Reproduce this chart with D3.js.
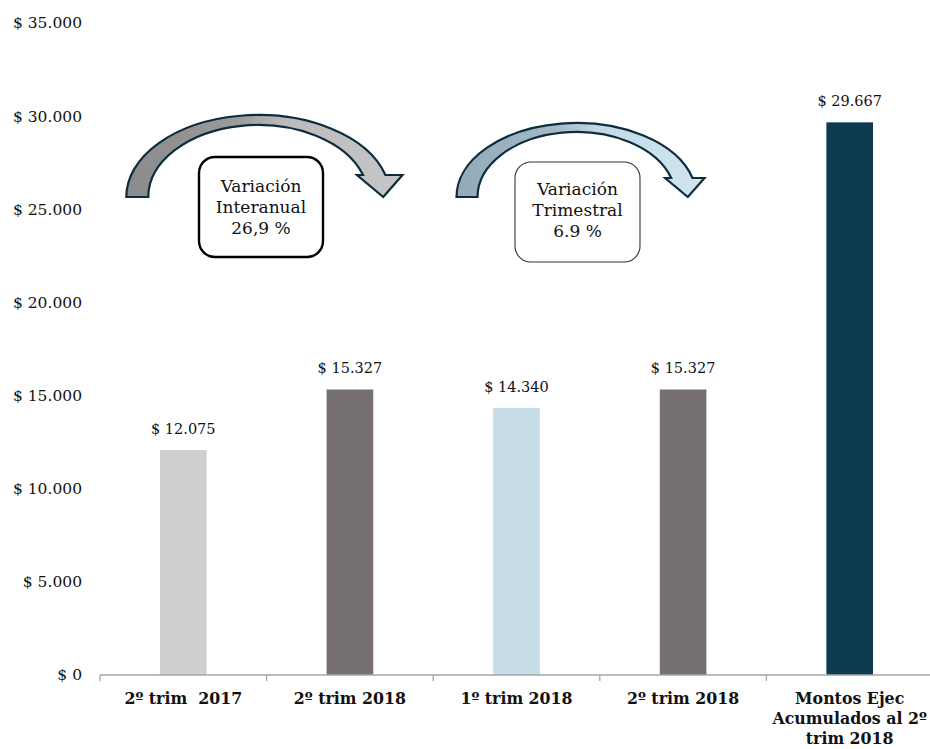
<!DOCTYPE html>
<html>
<head>
<meta charset="utf-8">
<script src="https://cdn.jsdelivr.net/npm/d3@7"></script>
<style>
body { margin: 0; background: #fff; }
text { font-family: "DejaVu Serif", serif; fill: #111; }
.xLabel { font-weight: bold; font-size: 15.8px; white-space: pre; }
.yLabel { font-size: 15.5px; }
.valLabel { font-size: 14.5px; }
.boxText { font-size: 17px; }
</style>
</head>
<body>
<div id="chart"></div>
<script>
//--------------------------------- Data ---------------------------------
var categories = ["2º trim  2017", "2º trim 2018", "1º trim 2018", "2º trim 2018 ", "Montos Ejec\nAcumulados al 2º\ntrim 2018"];
var values = [12075, 15327, 14340, 15327, 29667];
var barColors = ["#d0cecf", "#767170", "#c6dde8", "#767170", "#0e3a52"];
var yTicks = [0, 5000, 10000, 15000, 20000, 25000, 30000, 35000];
var variationLines = [
	["Variación", "Interanual", "26,9 %"],
	["Variación", "Trimestral", "6.9 %"]
];

//--------------------------------- Set up svg ---------------------------------
var width = 930, height = 749;
var margin = {left: 100, right: -3, top: 23, bottom: 74};

var svg = d3.select("#chart")
	.append("svg")
	.attr("width", width)
	.attr("height", height);

var x = d3.scaleBand()
	.domain(categories)
	.range([margin.left, width - margin.right])
	.padding(0);

var y = d3.scaleLinear()
	.domain([0, 35000])
	.range([height - margin.bottom, margin.top]);

var fmt = function(d) { return "$ " + d3.format(",")(d).replace(/,/g, "."); };

//--------------------------------- Y labels (no axis line) ---------------------------------
svg.selectAll(".yLabel")
	.data(yTicks)
	.enter().append("text")
	.attr("class", "yLabel")
	.attr("x", margin.left - 18)
	.attr("y", function(d) { return y(d); })
	.attr("dy", "0.35em")
	.attr("text-anchor", "end")
	.text(fmt);

//--------------------------------- Bars ---------------------------------
var barW = x.bandwidth() * 0.28;

svg.selectAll(".bar")
	.data(values)
	.enter().append("rect")
	.attr("class", "bar")
	.attr("x", function(d, i) { return x(categories[i]) + (x.bandwidth() - barW) / 2; })
	.attr("y", function(d) { return y(d); })
	.attr("width", barW)
	.attr("height", function(d) { return y(0) - y(d); })
	.style("fill", function(d, i) { return barColors[i]; });

svg.selectAll(".valLabel")
	.data(values)
	.enter().append("text")
	.attr("class", "valLabel")
	.attr("x", function(d, i) { return x(categories[i]) + x.bandwidth() / 2; })
	.attr("y", function(d) { return y(d) - 16; })
	.attr("text-anchor", "middle")
	.text(fmt);

//--------------------------------- X axis ---------------------------------
var xAxis = svg.append("g").attr("class", "xAxis");
xAxis.append("line")
	.attr("x1", x.range()[0]).attr("x2", x.range()[1])
	.attr("y1", y(0)).attr("y2", y(0))
	.style("stroke", "#a6a6a6").style("stroke-width", 1.3);

var bounds = categories.map(function(c) { return x(c); }).concat([x.range()[1]]);
xAxis.selectAll(".tickMark")
	.data(bounds)
	.enter().append("line")
	.attr("x1", function(d) { return d; }).attr("x2", function(d) { return d; })
	.attr("y1", y(0)).attr("y2", y(0) + 6)
	.style("stroke", "#a6a6a6").style("stroke-width", 1.3);

xAxis.selectAll(".xLabel")
	.data(categories)
	.enter().append("text")
	.attr("class", "xLabel")
	.attr("text-anchor", "middle")
	.attr("x", function(d) { return x(d) + x.bandwidth() / 2; })
	.attr("y", y(0) + 29)
	.each(function(d) {
		var t = d3.select(this);
		var cx = x(d) + x.bandwidth() / 2;
		d.trim().split("\n").forEach(function(line, k) {
			t.append("tspan").attr("x", cx).attr("dy", k === 0 ? 0 : 20).text(line);
		});
	});

//--------------------------------- Curved arrows ---------------------------------
var defs = svg.append("defs");
var gradients = [
	{id: "arrowGrad0", stops: [["0%", "#8b8b8b"], ["40%", "#9a9a9a"], ["58%", "#bcbcbc"], ["100%", "#c6c6c6"]]},
	{id: "arrowGrad1", stops: [["0%", "#93aab8"], ["40%", "#a3b9c6"], ["58%", "#c3dae6"], ["100%", "#d0e5f0"]]}
];
gradients.forEach(function(g) {
	defs.append("linearGradient")
		.attr("id", g.id)
		.attr("x1", "0%").attr("y1", "0%").attr("x2", "100%").attr("y2", "0%")
		.selectAll("stop")
		.data(g.stops)
		.enter().append("stop")
		.attr("offset", function(s) { return s[0]; })
		.attr("stop-color", function(s) { return s[1]; });
});

// arrow geometry relative to the band of the starting category
var arrows = [
	{from: 0, dx: 75, baseY: 197, rxO: 132, ryO: 82, rxI: 110, ryI: 72, neck: 22, wingL: 6, wingR: 17, tipDx: 9},
	{from: 2, dx: 60, baseY: 197, rxO: 120, ryO: 74, rxI: 99, ryI: 65, neck: 19, wingL: 6, wingR: 12, tipDx: 6}
];

function arrowPath(a) {
	var cx = x(categories[a.from]) + x.bandwidth() / 2 + a.dx;
	var ny = a.baseY - a.neck;
	var xo = cx + a.rxO * Math.sqrt(1 - Math.pow(a.neck / a.ryO, 2));
	var xi = cx + a.rxI * Math.sqrt(1 - Math.pow(a.neck / a.ryI, 2));
	var tipX = (xo + xi) / 2 + a.tipDx;
	return "M" + (cx - a.rxO) + "," + a.baseY +
		" A" + a.rxO + "," + a.ryO + " 0 0 1 " + xo + "," + ny +
		" L" + (xo + a.wingR) + "," + ny +
		" L" + tipX + "," + a.baseY +
		" L" + (xi - a.wingL) + "," + ny +
		" L" + xi + "," + ny +
		" A" + a.rxI + "," + a.ryI + " 0 0 0 " + (cx - a.rxI) + "," + a.baseY + " Z";
}

svg.selectAll(".curvedArrow")
	.data(arrows)
	.enter().append("path")
	.attr("class", "curvedArrow")
	.attr("d", arrowPath)
	.style("fill", function(d, i) { return "url(#arrowGrad" + i + ")"; })
	.style("stroke", "#0d2d3e")
	.style("stroke-width", 2.2)
	.style("stroke-linejoin", "miter");

//--------------------------------- Variation boxes ---------------------------------
var boxes = [
	{x: 199, y: 157, w: 124, h: 100, stroke: "#000", sw: 2.4, firstBase: 192},
	{x: 515, y: 162, w: 125, h: 100, stroke: "#333", sw: 1.1, firstBase: 195}
];

boxes.forEach(function(b, i) {
	svg.append("rect")
		.attr("x", b.x).attr("y", b.y)
		.attr("width", b.w).attr("height", b.h)
		.attr("rx", 16).attr("ry", 16)
		.style("fill", "#fff")
		.style("stroke", b.stroke)
		.style("stroke-width", b.sw);
	svg.append("text")
		.attr("class", "boxText")
		.attr("text-anchor", "middle")
		.selectAll("tspan")
		.data(variationLines[i])
		.enter().append("tspan")
		.attr("x", b.x + b.w / 2)
		.attr("y", function(d, k) { return b.firstBase + k * 21; })
		.text(function(d) { return d; });
});
</script>
</body>
</html>
